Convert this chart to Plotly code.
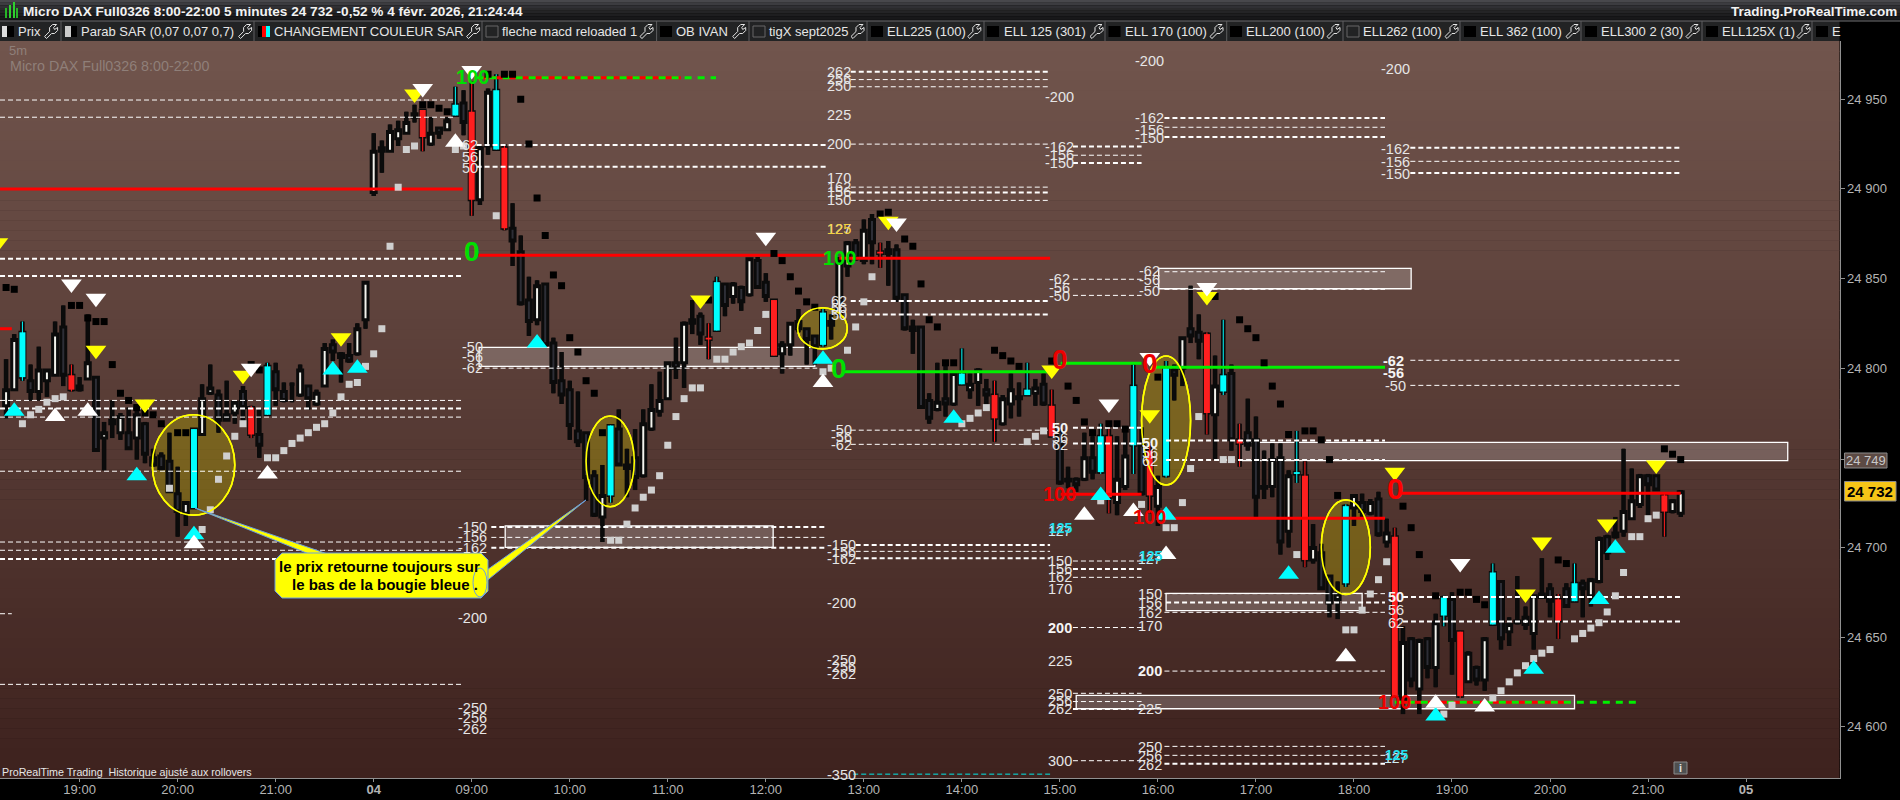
import plotly.graph_objects as go

# ---------- candles (bar 0 = 19:00 on the 3rd; bar 36 = 08:00 on the 4th) ----------
first_bar = -9
kinds = list("WWCDWWWDRD" "WDWDWDWDDD" "DDWCWWDDWD" "RDCDDDWDWW" "DDDWWWWWWW" "DRWDWCDRWW" "CRDDDWDDDD"
             "DDDWCDDDWW" "WWDWDDRCDW" "DWDDRWWDDD" "CDWWDWDRDD" "DWDDWDWCWW" "DRWWDCWDRD" "WDWDCRWWCD"
             "RWCDWDDRWC" "DRDDWWDWCR" "WDDWCWDWDW" "RWDWDWCDRW" "DWCDWDWWDD" "RDCDWWDWWW" "WDDRWW")
body_tops = [24788,24816,24820,24793,24799,24799,24819,24823,24796,24790,
24803,24795,24764,24771,24773,24764,24774,24769,24750,24751,
24748,24730,24725,24766,24783,24789,24785,24774,24781,24787,
24778,24763,24801,24798,24787,24791,24799,24790,24786,24811,
24813,24808,24807,24822,24848,24921,24923,24932,24933,24937,
24942,24944,24931,24934,24938,24947,24948,24943,24923,24954,
24955,24923,24878,24865,24838,24846,24847,24814,24793,24788,
24765,24764,24740,24729,24768,24766,24746,24750,24769,24777,
24782,24803,24803,24825,24827,24829,24817,24848,24847,24847,
24845,24861,24860,24848,24838,24813,24825,24826,24822,24818,
24831,24826,24860,24870,24870,24877,24883,24865,24866,24866,
24841,24823,24823,24782,24781,24783,24797,24797,24791,24799,
24788,24785,24783,24788,24784,24788,24789,24791,24779,24765,
24738,24738,24750,24750,24762,24762,24738,24751,24790,24757,
24754,24734,24800,24799,24817,24822,24820,24819,24790,24796,
24797,24760,24764,24760,24734,24749,24750,24740,24742,24740,
24700,24697,24684,24674,24723,24729,24725,24725,24727,24708,
24706,24647,24649,24648,24649,24658,24672,24671,24653,24641,
24633,24649,24686,24681,24657,24659,24661,24673,24674,24677,
24671,24677,24680,24680,24682,24705,24706,24708,24720,24726,
24740,24740,24740,24729,24726,24731]
body_bots = [24779,24788,24795,24787,24787,24793,24796,24796,24788,24788,
24794,24754,24761,24769,24764,24755,24761,24752,24746,24744,
24731,24720,24719,24722,24763,24786,24771,24771,24775,24778,
24763,24757,24774,24788,24782,24791,24785,24783,24780,24790,
24809,24806,24804,24808,24827,24898,24921,24921,24928,24931,
24940,24929,24925,24931,24933,24941,24937,24894,24894,24924,
24922,24878,24871,24836,24826,24827,24813,24792,24785,24768,
24759,24739,24718,24717,24729,24746,24744,24739,24740,24766,
24776,24783,24800,24803,24825,24819,24816,24821,24835,24840,
24837,24841,24845,24840,24807,24808,24813,24822,24816,24812,
24813,24824,24830,24857,24861,24860,24870,24864,24864,24839,
24822,24821,24778,24772,24777,24780,24780,24791,24788,24792,
24785,24772,24769,24780,24783,24785,24786,24780,24762,24736,
24737,24735,24738,24742,24742,24728,24725,24734,24757,24730,
24729,24723,24740,24796,24800,24818,24815,24775,24774,24787,
24760,24758,24757,24728,24733,24734,24703,24709,24741,24693,
24693,24677,24669,24671,24680,24722,24720,24719,24707,24703,
24617,24615,24626,24621,24633,24633,24662,24648,24617,24625,
24626,24626,24657,24649,24653,24658,24657,24652,24672,24670,
24659,24667,24670,24677,24673,24681,24697,24706,24709,24716,
24724,24735,24732,24720,24720,24719]
highs = [24805,24819,24826,24802,24812,24799,24826,24835,24802,24795,
24830,24795,24770,24782,24775,24778,24780,24770,24755,24753,
24764,24745,24725,24766,24791,24802,24788,24793,24781,24790,
24779,24777,24803,24803,24792,24792,24802,24790,24788,24814,
24816,24809,24814,24825,24848,24931,24927,24936,24938,24943,
24947,24944,24940,24934,24940,24957,24955,24960,24924,24956,
24964,24925,24892,24874,24851,24849,24847,24817,24809,24793,
24787,24764,24743,24746,24768,24777,24755,24766,24777,24791,
24798,24803,24817,24826,24838,24831,24825,24851,24847,24848,
24846,24861,24862,24853,24838,24815,24825,24833,24822,24818,
24833,24830,24862,24871,24872,24883,24886,24870,24871,24869,
24841,24827,24823,24786,24803,24803,24797,24811,24797,24800,
24794,24793,24785,24797,24792,24803,24794,24797,24788,24766,
24745,24739,24764,24762,24769,24766,24762,24767,24802,24767,
24758,24740,24804,24802,24817,24846,24830,24820,24807,24827,
24802,24769,24783,24773,24754,24758,24758,24743,24765,24748,
24713,24702,24684,24681,24724,24729,24730,24727,24731,24716,
24711,24656,24650,24649,24650,24663,24673,24675,24653,24642,
24634,24650,24691,24681,24661,24684,24667,24673,24694,24680,
24674,24680,24691,24682,24683,24706,24707,24717,24755,24744,
24741,24741,24740,24730,24727,24732]
lows = [24772,24788,24793,24782,24782,24784,24796,24790,24787,24787,
24794,24754,24743,24761,24760,24755,24749,24747,24745,24743,
24731,24706,24712,24722,24763,24785,24764,24771,24769,24768,
24761,24750,24774,24779,24781,24781,24784,24777,24779,24790,
24804,24792,24803,24807,24822,24896,24909,24921,24924,24931,
24937,24921,24924,24928,24933,24941,24930,24885,24891,24919,
24922,24877,24857,24835,24818,24824,24812,24786,24780,24760,
24756,24726,24717,24703,24725,24746,24728,24732,24739,24765,
24773,24783,24794,24789,24819,24813,24805,24821,24829,24836,
24832,24840,24845,24837,24807,24797,24807,24820,24802,24802,
24812,24816,24829,24851,24860,24858,24858,24856,24846,24837,
24821,24808,24778,24769,24776,24773,24779,24791,24783,24779,
24779,24759,24768,24772,24773,24785,24779,24779,24762,24735,
24733,24731,24737,24738,24741,24719,24718,24732,24741,24729,
24719,24712,24739,24782,24790,24814,24805,24763,24749,24785,
24754,24745,24754,24717,24727,24728,24696,24700,24736,24689,
24691,24677,24661,24660,24678,24712,24716,24718,24706,24700,
24616,24607,24622,24607,24627,24622,24656,24629,24616,24625,
24623,24620,24657,24643,24645,24657,24654,24643,24672,24661,
24649,24667,24670,24661,24667,24680,24693,24705,24706,24716,
24722,24718,24732,24706,24719,24717]
bars = list(range(first_bar, first_bar + len(kinds)))

# ---------- Parabolic SAR ----------
sar_black_x = [-9,-8,-1,0,1,2,3,4,5,6,7,8,9,10,12,13,21,22,42,43,44,45,50,52,53,54,55,56,57,58,59,60,61,62,63,64,77,
               85,86,87,88,89,90,98,99,101,102,103,104,105,106,107,112,113,114,115,119,121,122,123,124,126,127,128,132,
               139,142,143,144,145,146,147,148,150,151,152,153,154,162,163,164,165,166,169,170,171,172,181,182,194,195,196]
sar_black_y = [24845,24844,24835,24835,24828,24826,24826,24802,24786,24782,24778,24775,24774,24769,24764,24764,24802,24799,
               24947,24947,24945,24943,24964,24964,24964,24950,24925,24895,24874,24852,24846,24817,24809,24793,24786,24764,24838,
               24864,24860,24851,24843,24837,24834,24886,24887,24872,24868,24847,24827,24823,24803,24803,24810,24807,24804,24801,
               24804,24790,24782,24770,24764,24769,24769,24766,24795,24840,24827,24822,24817,24803,24790,24780,24763,24765,24765,
               24760,24749,24729,24723,24711,24696,24683,24673,24675,24675,24671,24668,24693,24691,24755,24752,24749]
sar_gray_x = [-7,-6,-5,-4,-3,-2,11,15,16,17,18,19,20,23,24,25,26,27,28,29,30,31,32,33,34,35,36,37,38,39,40,41,46,47,51,
              65,66,67,68,69,70,71,72,73,74,75,76,78,79,80,81,82,83,84,91,92,94,95,96,97,108,109,110,111,116,117,118,125,130,
              133,134,135,136,137,140,141,149,155,156,157,158,159,160,167,168,173,174,175,176,177,178,179,180,183,184,185,186,
              187,188,189,190,191,192,193]
sar_gray_y = [24769,24774,24777,24781,24783,24784,24733,24710,24721,24738,24751,24762,24769,24750,24750,24754,24758,24761,24764,
              24767,24769,24775,24784,24791,24792,24801,24808,24822,24868,24901,24922,24924,24922,24924,24885,
              24704,24704,24713,24722,24728,24732,24740,24757,24773,24783,24789,24789,24805,24805,24809,24812,24814,24821,24830,
              24798,24800,24810,24823,24837,24851,24769,24772,24775,24778,24759,24762,24765,24726,24724,
              24711,24711,24725,24744,24773,24749,24749,24696,24654,24654,24665,24674,24682,24692,24607,24612,
              24616,24620,24625,24630,24634,24638,24641,24643,24649,24652,24655,24658,24664,24673,24686,24706,24706,24716,24718]

# ---------- arrows ----------
cyan_up_x = [-8,7,14,31,34,56,91,107,125,133,148,166,178,186,188]
cyan_up_y = [24776,24740,24707,24799,24800,24814,24805,24772,24729,24718,24685,24606,24632,24671,24699.5]
white_up_x = [-3,1,14,23,46,91,123,129,133,155,166,172]
white_up_y = [24773,24776,24702,24741,24926,24792,24718,24720,24696,24639,24613,24611]
white_down_x = [-1,2,21,42,48,84,100,126,131,138,169]
white_down_y = [24847,24839,24800,24956,24966,24873,24881,24780,24806,24845,24691]
yellow_down_x = [-10,2,8,20,32,41,76,99,119,131,138,161,177,179,187,193]
yellow_down_y = [24870,24810,24780,24796,24817,24953,24838,24882,24799,24774,24840,24742,24674,24703,24713,24746]

# ---------- dashed fibonacci levels ----------
thin_x0 = [-9.74,-9.74,-9.74,-9.74,-9.74,-9.74,-9.74,-9.74,-9.74,48.6,50.4,94.4,94.4,94.4,94.4,94.4,94.4,94.4,95,
           121.6,121.6,121.6,121.6,121.6,121.6,121.6,121.6,121.6,132.8,132.8,132.8,132.8,132.8,132.8,132.8,132.8,162.9,162.9,162.9]
thin_x1 = [46,46,46.9,46.9,46.9,46.9,46.9,46.9,-8.3,90.3,91.4,118.8,118.8,118.8,118.8,118.8,118.8,118.8,118.8,
           130,130,130,130,130,130,130,130,130,159.8,159.8,159.8,159.8,159.8,159.8,159.8,159.8,195.9,195.9,195.9]
thin_price = [24949.6,24940,24782,24772.7,24742.5,24703,24698.4,24623.6,24663,24800,24705.6,24961,24957,24925,24901,24893.6,24765.4,24757.5,24697.8,
              24918.8,24849.6,24840.6,24692.4,24683.3,24655.3,24618.6,24614,24581,24934.4,24853.8,24844,24674.2,24663.8,24631,24589,24584,24915.4,24804.4,24790.4]
thick_x0 = [-9.74,-9.74,-9.74,-9.74,48.6,48.6,50.4,50.4,94.4,94.4,94.4,94.4,95,95,121.6,121.6,121.6,121.6,121.6,121.6,
            132.8,132.8,133,133,133,132.8,162.9,162.9,162,162]
thick_x1 = [46.9,46.9,46.9,46.9,91.4,91.4,91.4,91.4,118.8,118.8,118.8,118.8,118.8,118.8,130,130,130,130,130,130,
            159.8,159.8,159.8,159.8,159.8,159.8,195.9,195.9,196,196]
thick_price = [24861,24851.4,24777.5,24693.5,24924.5,24912.4,24711.4,24699.8,24965.4,24898,24837.5,24830,24701.4,24694,
               24923.6,24914.5,24766.7,24758,24688,24609.8,24939.6,24929,24759.6,24748.8,24669.2,24579.3,24923,24908.9,24672.3,24658.6]
red_x0 = [-9.74,-9.74,48.8,93,120.1,132.6,161.5]
red_x1 = [46.9,-8.3,91.2,118.8,130,159.8,196]
red_price = [24900,24822,24863,24861.3,24729.6,24716.2,24730.2]
green_x0 = [93.5,120.1,131.6]
green_x1 = [118.8,130,159.8]
green_price = [24798,24802.7,24800.5]
target_x0 = [48.6,161]
target_green_x1 = [77.9,191]
target_red_x1 = [73.6,182.3]
target_price = [24962,24613.6]
cyan_level = [94.7,118.8,24573.5]

# ---------- zones and ellipses ----------
zone_x0 = [48.9,52.1,122,132.1,133,142]
zone_x1 = [90,84.9,183,163,157,209.1]
zone_top = [24811.6,24712,24617.5,24855.7,24674.4,24758.6]
zone_bot = [24801,24700,24610,24844.3,24664.7,24748.4]
ell_x0 = [8.9,62,87.9,130,152]
ell_x1 = [19,67.9,93.97,136,158]
ell_top = [24774,24773.3,24833.7,24806.8,24726.5]
ell_bot = [24718,24722.7,24810.7,24734.8,24673.8]

# ---------- axes and texts ----------
tick_bars = [0,12,24,36,48,60,72,84,96,108,120,132,144,156,168,180,192,204]
tick_times = ["19:00","20:00","21:00","<b>04</b>","09:00","10:00","11:00","12:00","13:00","14:00","15:00","16:00","17:00",
              "18:00","19:00","20:00","21:00","<b>05</b>"]
price_ticks = [24600,24650,24700,24749,24800,24850,24900,24950]
price_text = ["24 600","24 650","24 700","","24 800","24 850","24 900","24 950"]
title_text = "Micro DAX Full0326 8:00-22:00 5 minutes 24 732 -0,52 % 4 févr. 2026, 21:24:44"
callout_lines = ["le prix retourne toujours sur", "le bas de la bougie bleue ."]
legend_names = ["Prix","Parab SAR (0,07 0,07 0,7)","CHANGEMENT COULEUR SAR","fleche macd reloaded 1","OB IVAN","tigX sept2025",
                "ELL225 (100)","ELL 125 (301)","ELL 170 (100)","ELL200 (100)","ELL262 (100)","ELL 362 (100)","ELL300 2 (30)","ELL125X (1)","E"]
legend_text_x = [18,81,274,502,676,768.5,887,1004,1125,1246,1363,1480,1601,1722,1831.5]
legend_wrench_x = [50.6,244.6,472.6,646,738.7,857,973.8,1096,1216,1333,1451,1572,1692,1803]
legend_sep_x = [61,254,482,656.6,749,867,984,1105,1226.7,1343,1460,1581,1702,1812]
legend_black_box_x = [660,871,987,1108.5,1230,1464,1585,1706,1816]
legend_open_box_x = [486,753,1347]

W, H = 1900, 800
PLOT_R, PLOT_T, PLOT_B = 1839.5, 41, 778
FONT = "Liberation Sans, Arial, sans-serif"
def X(px): return px / W
def Y(py): return 1 - py / H

shapes, annots = [], []
def rect(x0, y0, x1, y1, fill, line=None, lw=0, layer="below"):
    shapes.append(dict(type="rect", xref="paper", yref="paper", x0=X(x0), x1=X(x1), y0=Y(y0), y1=Y(y1),
                       fillcolor=fill, line=dict(color=line or fill, width=lw), layer=layer))
def txt(px, py, s, color="#e6e6e6", size=14, bold=False, anchor="center"):
    annots.append(dict(xref="paper", yref="paper", x=X(px), y=Y(py), text=f"<b>{s}</b>" if bold else s, showarrow=False,
                       xanchor=anchor, yanchor="middle", font=dict(family=FONT, size=size, color=color), borderpad=0, borderwidth=0))
def path(points, fill, line, lw, layer="above"):
    d = "M" + " L".join(f"{X(a):.5f},{Y(b):.5f}" for a, b in points) + " Z"
    shapes.append(dict(type="path", xref="paper", yref="paper", path=d, fillcolor=fill, line=dict(color=line, width=lw), layer=layer))

# chart background gradient
top, bot = (113, 85, 77), (62, 34, 30)
n = 74
for k in range(n):
    t = k / (n - 1)
    c = "rgb(%d,%d,%d)" % tuple(round(a + (b - a) * t) for a, b in zip(top, bot))
    y0 = PLOT_T + (PLOT_B - PLOT_T) * k / n
    y1 = PLOT_T + (PLOT_B - PLOT_T) * (k + 1) / n + 0.5
    rect(0, y0, PLOT_R, min(y1, PLOT_B), c)

# zones and ellipses, in data coordinates
for a, b, c, d in zip(zone_x0, zone_x1, zone_top, zone_bot):
    shapes.append(dict(type="rect", xref="x", yref="y", x0=a, x1=b, y0=d, y1=c, fillcolor="rgba(255,255,255,0.2)",
                       line=dict(color="white", width=1.3), layer="below"))
for a, b, c, d in zip(ell_x0, ell_x1, ell_top, ell_bot):
    shapes.append(dict(type="circle", xref="x", yref="y", x0=a, x1=b, y0=d, y1=c, fillcolor="rgba(180,165,0,0.38)",
                       line=dict(color="#ffff00", width=1.6), layer="below"))
    shapes.append(dict(type="circle", xref="x", yref="y", x0=a, x1=b, y0=d, y1=c, fillcolor="rgba(0,0,0,0)",
                       line=dict(color="#ffff00", width=1.6), layer="above"))

# header bands
for k, c in enumerate(["#48484c", "#3c3c40", "#303034", "#2a2a2c", "#242426", "#1e1e20", "#18181a", "#141416"]):
    rect(0, k * 2.7, W, (k + 1) * 2.7, c, layer="above")
rect(0, 21, PLOT_R, 41, "#222324", layer="above")
rect(0, 20.5, W, 21.5, "#68686a", layer="above")
for px in legend_sep_x:
    rect(px - 0.5, 21, px + 0.5, 41, "#5e5e60", layer="above")
for a, h, c in [(5, 10, "#27b427"), (9, 13, "#2fd02f"), (13, 16, "#2fd02f"), (16, 10, "#27b427")]:
    rect(a, 18 - h, a + 2, 18, c, layer="above")
txt(23, 11, title_text, "#f2f2f2", 13.6, True, "left")
txt(1897, 11, "Trading.ProRealTime.com", "#f2f2f2", 13.5, True, "right")

# legend row
for name, px in zip(legend_names, legend_text_x):
    txt(px, 31.5, name, "#e6e6e6", 13, False, "left")
for a, b, c in [(2, 7, "#dddddd"), (7, 14, "#000000"), (65, 71, "#cccccc"), (71, 77, "#000000"),
                (258, 262, "#000000"), (262, 266, "#ff0000"), (266, 270, "#00ffff")]:
    rect(a, 26, b, 37, c, layer="above")
for px in legend_black_box_x:
    rect(px, 26, px + 12, 37, "#000000", layer="above")
for px in legend_open_box_x:
    rect(px, 26, px + 12, 37, "rgba(0,0,0,0)", "#666666", 1, layer="above")
wrench = [(-6,5),(-1,0),(-1,-4),(2,-7),(6,-7),(3,-4),(4,-2),(7,-4),(7,-1),(4,2),(1,2),(-4,7)]
for cx in legend_wrench_x:
    path([(cx + a, 31.5 + b) for a, b in wrench], "rgba(0,0,0,0)", "#e6e6e6", 1)

# watermark and footer
txt(9, 51, "5m", "#8f7f79", 13, False, "left")
txt(10, 65.5, "Micro DAX Full0326 8:00-22:00", "#8f7f79", 14.3, False, "left")
txt(2, 772, "ProRealTime Trading  Historique ajusté aux rollovers", "#e6e6e6", 10.7, False, "left")

# right axis price tags
rect(1844.5, 453, 1887, 468, "#5c4a44", "#8a8a8a", 1, layer="above")
txt(1866, 460.5, "24 749", "#c8c8c8", 13)
rect(1844.5, 481.5, 1896, 501, "#f6c517", "#8a8a8a", 1, layer="above")
txt(1870, 491.5, "24 732", "#000000", 15, True)
rect(1674, 762, 1687, 774, "#4e5050", "#8a8a8a", 1, layer="above")
txt(1680.5, 768, "i", "#e0e0e0", 11, True)

# callout
blue = "#6a9fe0"
path([(195, 508), (309, 554), (327.5, 554)], "#ffff00", blue, 1)
path([(586, 500), (484, 572), (484, 583)], "#ffff00", blue, 1)
r = 7
path([(275 + r, 553), (488 - r, 553), (488, 553 + r), (488, 598 - r), (488 - r, 598), (275 + r, 598), (275, 598 - r), (275, 553 + r)],
     "#ffff00", blue, 1)
shapes.append(dict(type="circle", xref="paper", yref="paper", x0=X(473), x1=X(487), y0=Y(597), y1=Y(568), line=dict(color=blue, width=1), layer="above"))
txt(379, 566, callout_lines[0], "#000000", 15, True)
txt(385, 584, callout_lines[1], "#000000", 15, True)

# value labels on the fibonacci levels
W_ = "#e6e6e6"
label_rows = [
 (472,[("-50",347),("-56",357),("-62",368),("-150",527),("-156",537),("-162",548),("-200",618),("-250",707.7),("-256",718),("-262",728.7)]),
 (470,[("62",145),("56",157),("50",168)]),
 (839,[("262",71.7),("256",79),("250",86.3),("225",115),("200",143.7),("170",177.7),("162",187),("156",192),("150",200),("127",228.7),
       ("62",301),("56",308),("50",315)]),
 (841,[("-50",430),("-56",437),("-62",445),("-150",545),("-156",552),("-162",559),("-200",602.7),("-250",660),("-256",667),("-262",674),("-350",774.5)]),
 (1059.6,[("-200",96.7),("-162",147),("-156",155),("-150",163.5),("-62",279),("-56",288),("-50",296),("56",438),("62",445),
          ("150",561),("156",569),("162",577),("170",588.7),("225",661),("250",693.5),("256",701),("262",709),("300",760.7)]),
 (1149.5,[("-200",60.7),("-162",118),("-156",130),("-150",138),("-62",270.7),("-56",280),("-50",290.7),("56",452.7),("62",460.7),
          ("150",594),("156",603),("162",613),("170",626),("225",709.3),("250",746.7),("256",756),("262",765)]),
 (1395.5,[("-200",69),("-162",149),("-156",162),("-150",173.5),("-50",385.7),("56",610),("62",622.7)]),
]
for px, rows in label_rows:
    for s, py in rows:
        txt(px, py, s, W_, 14.5)
for px, py, s in [(1059.6,428,"50"),(1059.6,627.7,"200"),(1149.5,443,"50"),(1149.5,670.7,"200"),(1395.5,597,"50"),(1393,361,"-62"),(1393,373,"-56")]:
    txt(px, py, s, "#f5f5f5", 14.5, True)
txt(839, 228.7, "125", "#f2d23c", 14.5)
for px, py in [(1059.6,528),(1149.5,556),(1396,755)]:
    txt(px, py + 3, "127", "#cfeff5", 14)
    txt(px + 1, py, "125", "#22e0f0", 14, True)
for px, py, s, c, sz in [(472,77,"100","#00e000",20),(472,252,"0","#00e000",28),(839,258,"100","#00e000",20),(839,368,"0","#00e000",28),
                         (1059.6,360,"0","#ee0000",28),(1059.6,494,"100","#ee0000",20),(1149.5,363,"0","#ee0000",28),(1149.5,517,"100","#ee0000",20),
                         (1395.5,489,"0","#ff0000",30),(1394.7,702,"100","#ee0000",20)]:
    txt(px, py, s, c, sz, True)

# ---------- traces ----------
fig = go.Figure()
hi_lo = [h - l for h, l in zip(highs, lows)]
fig.add_trace(go.Bar(x=bars, base=lows, y=hi_lo, width=0.56, marker=dict(color="#0b0b0b", line=dict(width=0)), hoverinfo="skip", name="Wicks"))

def sub(kind, values):
    return [v for v, k in zip(values, kinds) if k == kind]
opens = [b if k in "WC" else t for t, b, k in zip(body_tops, body_bots, kinds)]
closes = [t if k in "WC" else b for t, b, k in zip(body_tops, body_bots, kinds)]
for kind, fill, label in [("W", "#f2f2ec", "Up"), ("D", "#2d2e36", "Down"), ("C", "#00ffff", "Colour change up"), ("R", "#ff2020", "Colour change down")]:
    style = dict(line=dict(color="#0b0b0b", width=3), fillcolor=fill)
    fig.add_trace(go.Candlestick(x=sub(kind, bars), open=sub(kind, opens), high=sub(kind, highs), low=sub(kind, lows), close=sub(kind, closes),
                                 increasing=style, decreasing=style, whiskerwidth=0, hoverinfo="skip", name=label))

def segs(x0s, x1s, ps):
    xs, ys = [], []
    for a, b, p in zip(x0s, x1s, ps):
        xs += [a, b, None]; ys += [p, p, None]
    return xs, ys
def line_trace(xs, ys, color, width, dash="solid", name=""):
    fig.add_trace(go.Scatter(x=xs, y=ys, mode="lines", line=dict(color=color, width=width, dash=dash), hoverinfo="skip", name=name, connectgaps=False))

# coloured bodies and wicks over the black candle frames
for kind, color in [("C", "#00ffff"), ("R", "#ff1f1f")]:
    xs, tops, bots, hs, ls = sub(kind, bars), sub(kind, body_tops), sub(kind, body_bots), sub(kind, highs), sub(kind, lows)
    bx, by, wx, wy = [], [], [], []
    for x_, t_, b_, h_, l_ in zip(xs, tops, bots, hs, ls):
        bx += [x_, x_, None]; by += [t_, b_, None]
        wx += [x_, x_, None]; wy += [h_, l_, None]
    line_trace(wx, wy, color, 1, name=kind + " wick")
    line_trace(bx, by, color, 6, name=kind + " body")

line_trace(*segs(thin_x0, thin_x1, thin_price), "#ffffff", 1, "5px,3px", "Levels")
line_trace(*segs(thick_x0, thick_x1, thick_price), "#ffffff", 2, "5px,3px", "Levels bold")
line_trace(*segs(red_x0, red_x1, red_price), "#ff0000", 3, name="Red levels")
line_trace(*segs(green_x0, green_x1, green_price), "#00f000", 3, name="Green levels")
line_trace(*segs(target_x0, target_red_x1, target_price), "#ff0000", 3, name="Targets red")
line_trace(*segs(target_x0, target_green_x1, target_price), "#00f000", 3, "7px,6px", "Targets green")
line_trace(cyan_level[:2], [cyan_level[2]] * 2, "#00e8e8", 1, "5px,3px", "-350")

def markers(xs, ys, symbol, color, size, name):
    fig.add_trace(go.Scatter(x=xs, y=ys, mode="markers", marker=dict(symbol=symbol, color=color, size=size, line=dict(width=0)), hoverinfo="skip", name=name))
markers(sar_black_x, sar_black_y, "square", "#000000", 7, "SAR short")
markers(sar_gray_x, sar_gray_y, "square", "#cfcfcf", 7, "SAR long")
markers(cyan_up_x, cyan_up_y, "triangle-up", "#00ffff", 18, "Cyan up")
markers(white_up_x, white_up_y, "triangle-up", "#ffffff", 18, "White up")
markers(yellow_down_x, yellow_down_y, "triangle-down", "#ffff00", 18, "Yellow down")
markers(white_down_x, white_down_y, "triangle-down", "#ffffff", 18, "White down")

price_at = lambda py: 24950 + (99.3 - py) * 0.5579
bar_at = lambda px: (px - 79.6) / 8.169
fig.update_layout(
    width=W, height=H, autosize=False, margin=dict(l=0, r=0, t=0, b=0, pad=0), showlegend=False,
    paper_bgcolor="#000000", plot_bgcolor="#000000", barmode="overlay", boxgap=0.39, boxgroupgap=0, hovermode=False,
    shapes=shapes, annotations=annots,
    xaxis=dict(domain=[0, PLOT_R / W], range=[bar_at(0), bar_at(PLOT_R)], rangeslider=dict(visible=False), tickmode="array",
               tickvals=tick_bars, ticktext=tick_times, ticks="outside", ticklen=3, tickcolor="#909090", showgrid=False, zeroline=False,
               showline=True, linecolor="#909090", linewidth=1, ticklabelstandoff=-4, tickfont=dict(family=FONT, size=13, color="#b4b4b4"), automargin=False),
    yaxis=dict(domain=[1 - PLOT_B / H, 1 - PLOT_T / H], range=[price_at(PLOT_B), price_at(PLOT_T)], side="right", tickmode="array",
               tickvals=price_ticks, ticktext=price_text, ticks="outside", ticklen=4, tickcolor="#909090", showgrid=False, zeroline=False,
               showline=True, linecolor="#909090", linewidth=1, tickfont=dict(family=FONT, size=13, color="#b4b4b4"), automargin=False),
)
fig.write_html("out.html", config=dict(displayModeBar=False, responsive=False),
               post_script="document.body.style.margin='0';document.documentElement.style.overflow='hidden';")
